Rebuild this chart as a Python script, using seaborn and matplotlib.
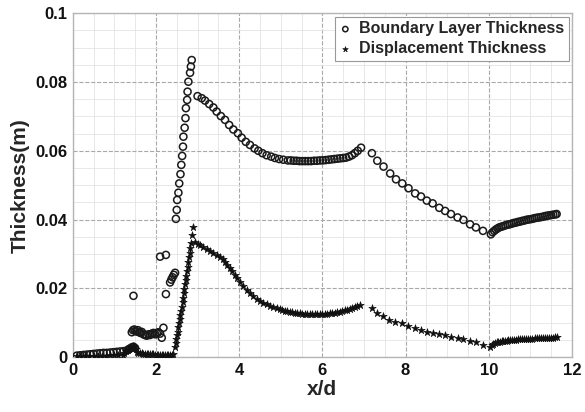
import numpy as np
import matplotlib
matplotlib.use("Agg")
import matplotlib.pyplot as plt
import seaborn as sns
from matplotlib.ticker import FixedLocator, FixedFormatter, MultipleLocator

# ---------------------------
# Data
# ---------------------------
# Boundary layer thickness (hollow circles)
bl_x = [0.10, 0.18, 0.26, 0.34, 0.42, 0.50, 0.58, 0.66, 0.74, 0.82, 0.90, 0.98, 1.06, 1.14, 1.22, 1.30,
        1.34, 1.38, 1.42, 1.46, 1.50, 1.46,
        1.42, 1.45, 1.48, 1.51, 1.54, 1.57, 1.60, 1.63, 1.66, 1.70, 1.74, 1.78, 1.82, 1.86, 1.90, 1.94,
        1.98, 2.02, 2.06, 2.10, 2.14, 2.18, 2.24, 2.10, 2.24,
        2.34, 2.37, 2.40, 2.43, 2.46,
        2.48, 2.50, 2.51, 2.54, 2.56, 2.59, 2.61, 2.63, 2.65, 2.66, 2.69, 2.71, 2.72, 2.75, 2.76, 2.78,
        2.82, 2.84, 2.86,
        3.00, 3.10, 3.18, 3.28, 3.38, 3.46, 3.56, 3.66, 3.76, 3.86, 3.97, 4.06, 4.16, 4.26, 4.37, 4.46,
        4.56, 4.66, 4.77, 4.86, 4.96, 5.06, 5.17,
        5.24, 5.31, 5.38, 5.45, 5.52, 5.59, 5.66, 5.73, 5.80, 5.87, 5.94, 6.01, 6.08, 6.15, 6.22, 6.29,
        6.36, 6.43, 6.50, 6.57, 6.64, 6.71, 6.78, 6.85, 6.93,
        7.19, 7.32, 7.47, 7.63, 7.77, 7.92, 8.07, 8.23, 8.37, 8.51, 8.65, 8.81, 8.95, 9.09, 9.25, 9.39,
        9.55, 9.69, 9.86,
        10.05, 10.09, 10.13, 10.17, 10.21, 10.25, 10.30, 10.35, 10.40, 10.45, 10.50, 10.55, 10.60,
        10.65, 10.70, 10.75, 10.80, 10.85, 10.90, 10.95, 11.00, 11.05, 11.10, 11.15, 11.20, 11.25,
        11.30, 11.35, 11.40, 11.45, 11.50, 11.55, 11.60, 11.63]
bl_y = [0.0004, 0.0005, 0.0006, 0.0007, 0.0008, 0.0009, 0.0010, 0.0011, 0.0012, 0.0012, 0.0013, 0.0014, 0.0015, 0.0016, 0.0017, 0.0019,
        0.0022, 0.0025, 0.0028, 0.0030, 0.0026, 0.0178,
        0.0072, 0.0078, 0.0080, 0.0076, 0.0074, 0.0078, 0.0072, 0.0070, 0.0073, 0.0066, 0.0064, 0.0062, 0.0066, 0.0064, 0.0068, 0.0070,
        0.0066, 0.0070, 0.0072, 0.0068, 0.0056, 0.0085, 0.0183, 0.0292, 0.0297,
        0.0217, 0.0225, 0.0232, 0.0239, 0.0245,
        0.0402, 0.0428, 0.0457, 0.0478, 0.0505, 0.0532, 0.0559, 0.0585, 0.0612, 0.0641, 0.0667, 0.0695, 0.0724, 0.0748, 0.0772, 0.0801,
        0.0827, 0.0845, 0.0864,
        0.0759, 0.0753, 0.0746, 0.0736, 0.0726, 0.0714, 0.0701, 0.0690, 0.0675, 0.0662, 0.0651, 0.0638, 0.0626, 0.0617, 0.0607, 0.0600,
        0.0593, 0.0587, 0.0583, 0.0579, 0.0576, 0.0574, 0.0572,
        0.0572, 0.0571, 0.0571, 0.0570, 0.0570, 0.0570, 0.0570, 0.0570, 0.0571, 0.0571, 0.0572, 0.0572, 0.0573, 0.0574, 0.0575, 0.0576,
        0.0577, 0.0578, 0.0579, 0.0580, 0.0583, 0.0587, 0.0593, 0.0600, 0.0609,
        0.0593, 0.0571, 0.0554, 0.0534, 0.0517, 0.0505, 0.0491, 0.0476, 0.0467, 0.0455, 0.0447, 0.0434, 0.0425, 0.0416, 0.0406, 0.0399,
        0.0386, 0.0377, 0.0367,
        0.0357, 0.0363, 0.0367, 0.0371, 0.0374, 0.0377, 0.0379, 0.0381, 0.0383, 0.0385, 0.0386, 0.0388, 0.0390,
        0.0391, 0.0393, 0.0394, 0.0396, 0.0397, 0.0399, 0.0400, 0.0401, 0.0402, 0.0404, 0.0405, 0.0406, 0.0407,
        0.0408, 0.0410, 0.0411, 0.0412, 0.0413, 0.0414, 0.0415, 0.0416]

# Displacement thickness (stars)
dt_x = [0.10, 0.20, 0.30, 0.40, 0.50, 0.60, 0.70, 0.80, 0.90, 1.00, 1.10, 1.20,
        1.24, 1.28, 1.32, 1.36, 1.40, 1.44, 1.48, 1.52, 1.55,
        1.58, 1.62, 1.66, 1.70, 1.74, 1.78, 1.82, 1.86, 1.90, 1.94, 1.98, 2.02, 2.06, 2.10, 2.14, 2.18,
        2.22, 2.26, 2.30, 2.34, 2.38, 2.42,
        2.46, 2.48, 2.49, 2.51, 2.52, 2.54, 2.56, 2.57, 2.59, 2.60, 2.62, 2.64, 2.65, 2.67, 2.68, 2.70,
        2.72, 2.73, 2.75, 2.76, 2.78, 2.80, 2.81, 2.83, 2.84, 2.86, 2.88,
        2.94, 3.00, 3.06, 3.14, 3.22, 3.30, 3.38, 3.46, 3.54, 3.60, 3.66, 3.72, 3.78, 3.84, 3.90, 3.96,
        4.02, 4.10, 4.18, 4.26, 4.34, 4.42, 4.50, 4.58, 4.66, 4.74, 4.82, 4.90, 4.98,
        5.04, 5.10, 5.16, 5.22, 5.28, 5.34, 5.40, 5.46, 5.52, 5.58, 5.64, 5.70, 5.76, 5.82, 5.88, 5.94,
        6.00, 6.06, 6.12, 6.18, 6.24, 6.30, 6.36, 6.42, 6.48, 6.54, 6.60, 6.66, 6.72, 6.78, 6.84, 6.91,
        7.19, 7.31, 7.45, 7.61, 7.75, 7.91, 8.07, 8.23, 8.37, 8.51, 8.65, 8.81, 8.95, 9.09, 9.25, 9.39,
        9.55, 9.69, 9.86,
        10.03, 10.07, 10.11, 10.15, 10.19, 10.23, 10.27, 10.31, 10.35, 10.39, 10.43, 10.47, 10.51,
        10.55, 10.60, 10.65, 10.70, 10.75, 10.80, 10.85, 10.90, 10.95, 11.00, 11.05, 11.10, 11.15,
        11.20, 11.25, 11.30, 11.35, 11.40, 11.45, 11.50, 11.55, 11.60, 11.63]
dt_y = [0.0002, 0.0002, 0.0003, 0.0003, 0.0003, 0.0004, 0.0004, 0.0004, 0.0005, 0.0005, 0.0005, 0.0006,
        0.0012, 0.0016, 0.0020, 0.0024, 0.0028, 0.0031, 0.0030, 0.0022, 0.0015,
        0.0012, 0.0011, 0.0011, 0.0010, 0.0010, 0.0009, 0.0009, 0.0008, 0.0008, 0.0008, 0.0007, 0.0007, 0.0007, 0.0006, 0.0006, 0.0006,
        0.0006, 0.0006, 0.0006, 0.0007, 0.0007, 0.0008,
        0.0030, 0.0041, 0.0052, 0.0063, 0.0074, 0.0086, 0.0098, 0.0110, 0.0122, 0.0134, 0.0146, 0.0159, 0.0172, 0.0185, 0.0198, 0.0211,
        0.0224, 0.0237, 0.0250, 0.0263, 0.0276, 0.0290, 0.0304, 0.0318, 0.0333, 0.0355, 0.0379,
        0.0334, 0.0330, 0.0326, 0.0320, 0.0313, 0.0308, 0.0302, 0.0297, 0.0292, 0.0285, 0.0277, 0.0268, 0.0258, 0.0249, 0.0239, 0.0229,
        0.0219, 0.0207, 0.0195, 0.0186, 0.0177, 0.0170, 0.0164, 0.0158, 0.0153, 0.0149, 0.0145, 0.0142, 0.0139,
        0.0137, 0.0135, 0.0134, 0.0132, 0.0130, 0.0129, 0.0128, 0.0127, 0.0126, 0.0126, 0.0125, 0.0125, 0.0125, 0.0125, 0.0125, 0.0125,
        0.0125, 0.0126, 0.0126, 0.0127, 0.0128, 0.0129, 0.0130, 0.0132, 0.0134, 0.0136, 0.0138, 0.0140, 0.0142, 0.0145, 0.0148, 0.0151,
        0.0142, 0.0127, 0.0119, 0.0108, 0.0101, 0.0098, 0.0091, 0.0083, 0.0079, 0.0074, 0.0071, 0.0067, 0.0064, 0.0059, 0.0054, 0.0051,
        0.0047, 0.0043, 0.0035,
        0.0030, 0.0034, 0.0038, 0.0040, 0.0043, 0.0044, 0.0045, 0.0046, 0.0047, 0.0048, 0.0048, 0.0049, 0.0049,
        0.0050, 0.0050, 0.0050, 0.0051, 0.0051, 0.0052, 0.0052, 0.0052, 0.0053, 0.0053, 0.0053, 0.0054, 0.0054,
        0.0054, 0.0054, 0.0055, 0.0055, 0.0055, 0.0055, 0.0056, 0.0056, 0.0057, 0.0057]

x_ticks = [0, 2, 4, 6, 8, 10, 12]
y_ticks = [0, 0.02, 0.04, 0.06, 0.08, 0.1]
y_tick_labels = ["0", "0.02", "0.04", "0.06", "0.08", "0.1"]

# ---------------------------
# Style
# ---------------------------
sns.set_style("white")
plt.rcParams['font.family'] = ['Liberation Sans', 'DejaVu Sans']
plt.rcParams['font.weight'] = 'bold'

fig = plt.figure(figsize=(5.85, 4.12), dpi=100)
ax = fig.add_axes([0.1243, 0.1335, 0.8535, 0.8342])

sns.scatterplot(x=bl_x, y=bl_y, ax=ax, marker='o', s=26, color='black',
                facecolor='none', edgecolor='#1a1a1a', linewidth=1.1,
                label='Boundary Layer Thickness', zorder=3)
sns.scatterplot(x=dt_x, y=dt_y, ax=ax, marker='*', s=32, color='#111111',
                edgecolor='#111111', linewidth=0.4,
                label='Displacement Thickness', zorder=3)

ax.set_xlim(0, 12)
ax.set_ylim(0, 0.1)
ax.xaxis.set_major_locator(FixedLocator(x_ticks))
ax.yaxis.set_major_locator(FixedLocator(y_ticks))
ax.yaxis.set_major_formatter(FixedFormatter(y_tick_labels))
ax.xaxis.set_minor_locator(MultipleLocator(0.5))
ax.yaxis.set_minor_locator(MultipleLocator(0.005))

ax.grid(which='major', linestyle='--', color='#a8a8a8', linewidth=0.8)
ax.grid(which='minor', linestyle='-', color='#e4e4e4', linewidth=0.6)
ax.set_axisbelow(True)
ax.tick_params(which='both', length=0, labelsize=12, pad=4, labelcolor='#111111')
for lbl in ax.get_xticklabels() + ax.get_yticklabels():
    lbl.set_fontweight('bold')

for sp in ax.spines.values():
    sp.set_color('#b5b5b5')
    sp.set_linewidth(1.0)

ax.set_xlabel('x/d', fontsize=15, fontweight='bold', labelpad=2)
ax.set_ylabel('Thickness(m)', fontsize=15, fontweight='bold', labelpad=4)

leg = ax.legend(loc='upper right', fontsize=11.5, frameon=True, fancybox=False,
                edgecolor='#999999', framealpha=1, borderaxespad=0.2,
                handlelength=0.7, handletextpad=0.5, borderpad=0.3,
                labelspacing=0.3, markerscale=0.75)
leg.get_frame().set_linewidth(0.8)
for t in leg.get_texts():
    t.set_fontweight('bold')

fig.savefig('out.png', dpi=100)
